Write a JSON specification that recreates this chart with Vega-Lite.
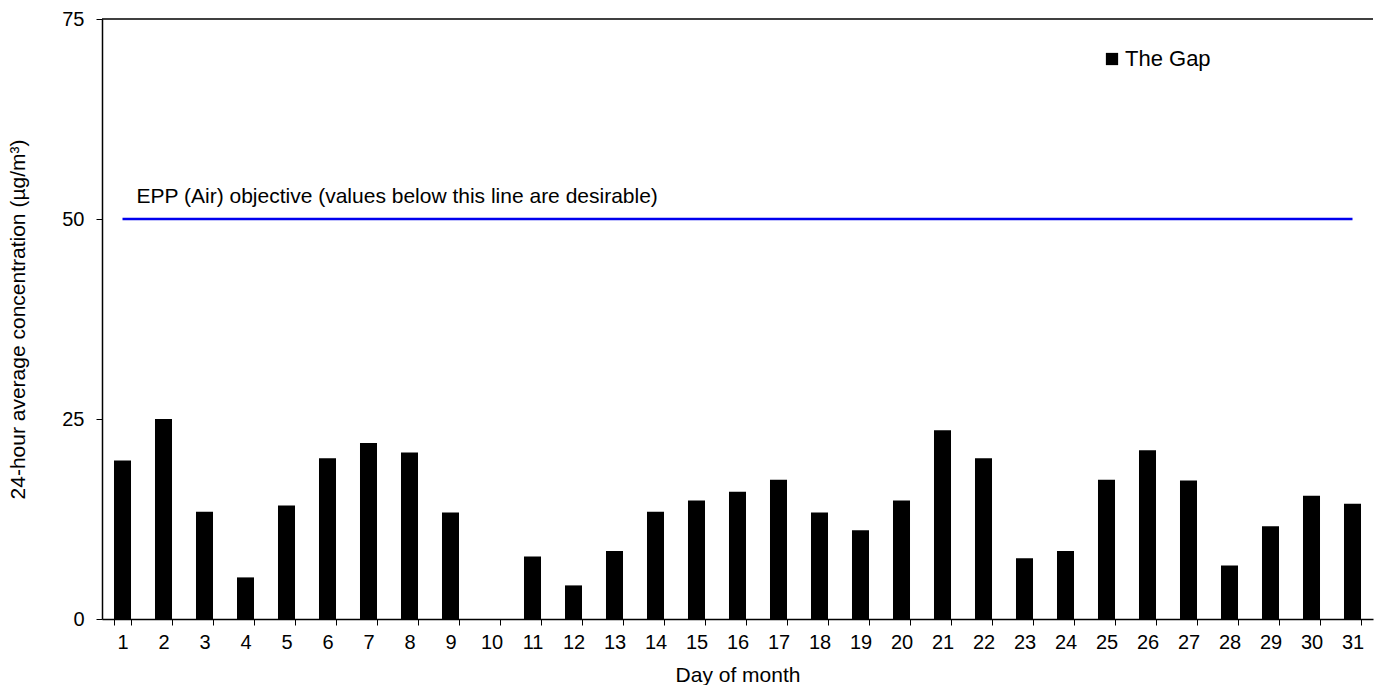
{
  "$schema": "https://vega.github.io/schema/vega-lite/v6.json",
  "autosize": "none",
  "width": 1271,
  "height": 600,
  "padding": {"left": 102, "top": 19, "right": 1, "bottom": 66},
  "data": {
    "values": [
      {"day": 1, "value": 19.8, "site": "The Gap"},
      {"day": 2, "value": 25.0, "site": "The Gap"},
      {"day": 3, "value": 13.4, "site": "The Gap"},
      {"day": 4, "value": 5.2, "site": "The Gap"},
      {"day": 5, "value": 14.2, "site": "The Gap"},
      {"day": 6, "value": 20.1, "site": "The Gap"},
      {"day": 7, "value": 22.0, "site": "The Gap"},
      {"day": 8, "value": 20.8, "site": "The Gap"},
      {"day": 9, "value": 13.3, "site": "The Gap"},
      {"day": 10, "value": 0, "site": "The Gap"},
      {"day": 11, "value": 7.8, "site": "The Gap"},
      {"day": 12, "value": 4.2, "site": "The Gap"},
      {"day": 13, "value": 8.5, "site": "The Gap"},
      {"day": 14, "value": 13.4, "site": "The Gap"},
      {"day": 15, "value": 14.8, "site": "The Gap"},
      {"day": 16, "value": 15.9, "site": "The Gap"},
      {"day": 17, "value": 17.4, "site": "The Gap"},
      {"day": 18, "value": 13.3, "site": "The Gap"},
      {"day": 19, "value": 11.1, "site": "The Gap"},
      {"day": 20, "value": 14.8, "site": "The Gap"},
      {"day": 21, "value": 23.6, "site": "The Gap"},
      {"day": 22, "value": 20.1, "site": "The Gap"},
      {"day": 23, "value": 7.6, "site": "The Gap"},
      {"day": 24, "value": 8.5, "site": "The Gap"},
      {"day": 25, "value": 17.4, "site": "The Gap"},
      {"day": 26, "value": 21.1, "site": "The Gap"},
      {"day": 27, "value": 17.3, "site": "The Gap"},
      {"day": 28, "value": 6.7, "site": "The Gap"},
      {"day": 29, "value": 11.6, "site": "The Gap"},
      {"day": 30, "value": 15.4, "site": "The Gap"},
      {"day": 31, "value": 14.4, "site": "The Gap"}
    ]
  },
  "layer": [
    {
      "mark": {"type": "bar"},
      "encoding": {
        "x": {
          "field": "day",
          "type": "ordinal",
          "title": "Day of month",
          "scale": {"paddingInner": 0.585, "paddingOuter": 0.2925},
          "axis": {
            "labelAngle": 0,
            "tickBand": "extent",
            "tickSize": 6,
            "labelPadding": 7,
            "titleFontSize": 21,
            "titleY": 56,
            "titleBaseline": "middle"
          }
        },
        "y": {
          "field": "value",
          "type": "quantitative",
          "title": "24-hour average concentration (µg/m³)",
          "scale": {"domain": [0, 75], "nice": false},
          "axis": {
            "values": [0, 25, 50, 75],
            "grid": false,
            "tickSize": 6,
            "labelPadding": 12,
            "titleFontSize": 21,
            "titleX": -84,
            "titleY": 300,
            "titleAlign": "center",
            "titleBaseline": "middle",
            "titleAngle": -90
          }
        },
        "color": {
          "field": "site",
          "type": "nominal",
          "scale": {"range": ["#000000"]},
          "legend": {
            "title": null,
            "orient": "none",
            "legendX": 999,
            "legendY": 29,
            "symbolType": "square",
            "symbolSize": 150,
            "symbolStrokeWidth": 0,
            "labelFontSize": 22,
            "labelOffset": 2
          }
        }
      }
    },
    {
      "data": {"values": [{"start": 1, "end": 31, "limit": 50}]},
      "mark": {"type": "rule", "color": "#0000ee", "strokeWidth": 2.5},
      "encoding": {
        "x": {"field": "start", "type": "ordinal"},
        "x2": {"field": "end"},
        "y": {"field": "limit", "type": "quantitative"}
      }
    },
    {
      "data": {"values": [{"day": 1, "limit": 50, "label": "EPP (Air) objective (values below this line are desirable)"}]},
      "mark": {"type": "text", "align": "left", "baseline": "alphabetic", "dx": 14, "dy": -16, "fontSize": 21, "color": "#000000"},
      "encoding": {
        "x": {"field": "day", "type": "ordinal"},
        "y": {"field": "limit", "type": "quantitative"},
        "text": {"field": "label"}
      }
    },
    {
      "data": {"values": [{"top": 75}]},
      "mark": {"type": "rule", "color": "#000000", "strokeWidth": 1.5},
      "encoding": {
        "y": {"field": "top", "type": "quantitative"}
      }
    }
  ],
  "config": {
    "font": "Liberation Sans",
    "view": {"stroke": null},
    "axis": {
      "domainColor": "#000000",
      "domainWidth": 1.5,
      "tickColor": "#000000",
      "labelColor": "#000000",
      "titleColor": "#000000",
      "labelFontSize": 20,
      "titleFontWeight": "normal",
      "labelFont": "Liberation Sans",
      "titleFont": "Liberation Sans"
    },
    "legend": {"labelColor": "#000000", "labelFont": "Liberation Sans"}
  }
}
